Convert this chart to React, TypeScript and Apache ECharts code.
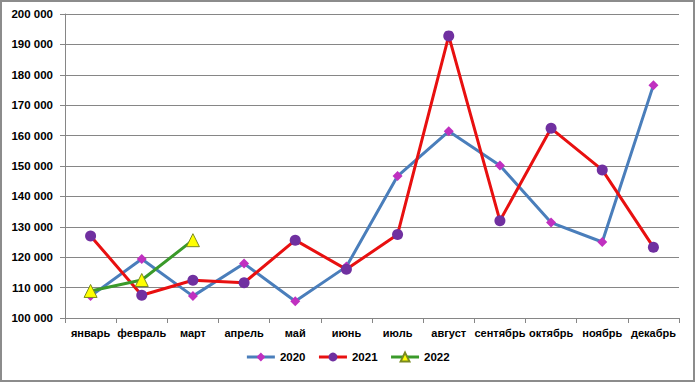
import React, { useEffect, useRef } from "react";
import * as echarts from "echarts";

const months = ["январь", "февраль", "март", "апрель", "май", "июнь", "июль", "август", "сентябрь", "октябрь", "ноябрь", "декабрь"];
const s2020 = [107200, 119400, 107200, 117900, 105500, 116900, 146700, 161400, 150200, 131400, 125000, 176600];
const s2021 = [127000, 107500, 112400, 111600, 125600, 116000, 127500, 192800, 132000, 162400, 148700, 123300];
const s2022 = [108900, 112500, 125600];

const fontFamily = "'Liberation Sans', Arial, sans-serif";
const fmt = (v: number) => {
  const s = String(Math.round(v));
  return s.replace(/\B(?=(\d{3})+(?!\d))/g, " ");
};

export default function App() {
  const ref = useRef<HTMLDivElement>(null);
  useEffect(() => {
    if (!ref.current) return;
    const chart = echarts.init(ref.current, undefined, { renderer: "svg" });
    chart.setOption({
      animation: false,
      backgroundColor: "#ffffff",
      grid: { left: 65, right: 16, top: 14, bottom: 64, containLabel: false },
      xAxis: {
        type: "category",
        data: months,
        boundaryGap: true,
        axisLine: { lineStyle: { color: "#868686", width: 1 } },
        axisTick: { show: true, alignWithLabel: false, length: 5, lineStyle: { color: "#868686" } },
        axisLabel: { color: "#000", fontFamily, fontWeight: "bold", fontSize: 11, margin: 9, interval: 0 },
      },
      yAxis: {
        type: "value",
        min: 100000,
        max: 200000,
        interval: 10000,
        axisLine: { show: true, lineStyle: { color: "#868686", width: 1 } },
        axisTick: { show: true, length: 5, lineStyle: { color: "#868686" } },
        splitLine: { lineStyle: { color: "#868686", width: 1 } },
        axisLabel: { color: "#000", fontFamily, fontWeight: "bold", fontSize: 11.5, margin: 12, formatter: fmt },
      },
      legend: {
        bottom: 14,
        left: "center",
        itemWidth: 28,
        itemHeight: 11,
        itemGap: 12,
        lineStyle: { width: 3 },
        textStyle: { color: "#000", fontFamily, fontWeight: "bold", fontSize: 11.5 },
        data: ["2020", "2021", "2022"],
      },
      series: [
        {
          name: "2020",
          type: "line",
          data: s2020,
          symbol: "diamond",
          symbolSize: 10,
          lineStyle: { color: "#4A7EBB", width: 3 },
          itemStyle: { color: "#C030C0", borderWidth: 0 },
          z: 2,
        },
        {
          name: "2021",
          type: "line",
          data: s2021,
          symbol: "circle",
          symbolSize: 11,
          lineStyle: { color: "#E81010", width: 3 },
          itemStyle: { color: "#7030A0", borderWidth: 0 },
          z: 3,
        },
        {
          name: "2022",
          type: "line",
          data: s2022,
          symbol: "triangle",
          symbolSize: 13,
          lineStyle: { color: "#3A9A2A", width: 3 },
          itemStyle: { color: "#FFFF00", borderColor: "#7A8A20", borderWidth: 1 },
          z: 4,
        },
      ],
    });
    return () => chart.dispose();
  }, []);
  return (
    <>
      <div ref={ref} style={{ position: "fixed", left: 0, top: 0, width: 695, height: 382 }} />
      <div
        style={{
          position: "fixed",
          left: 0,
          top: 0,
          width: 695,
          height: 382,
          boxSizing: "border-box",
          border: "2px solid #8c8c8c",
          pointerEvents: "none",
        }}
      />
    </>
  );
}
